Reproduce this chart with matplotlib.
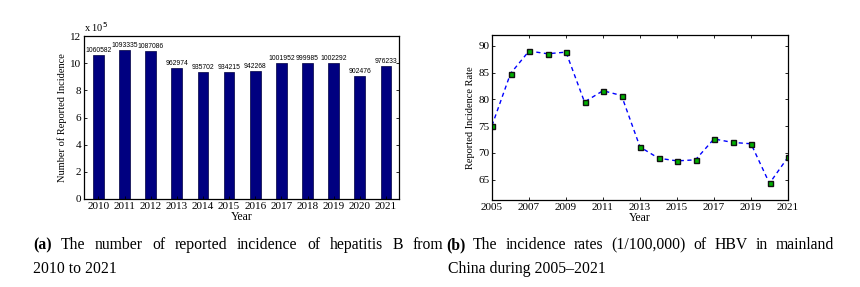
import numpy as np
import matplotlib
matplotlib.use('Agg')
import matplotlib.pyplot as plt

plt.rcParams['font.family'] = ['Liberation Serif', 'DejaVu Serif']

# data for panel (a)
bar_years = [2010, 2011, 2012, 2013, 2014, 2015, 2016, 2017, 2018, 2019, 2020, 2021]
bar_counts = [1060582, 1093335, 1087086, 962974, 935702, 934215, 942268, 1001952, 999985, 1002292, 902476, 976233]

# data for panel (b)
rate_years = [2005, 2006, 2007, 2008, 2009, 2010, 2011, 2012, 2013, 2014, 2015, 2016, 2017, 2018, 2019, 2020, 2021]
rate_values = [75.1, 84.8, 89.0, 88.5, 88.8, 79.5, 81.6, 80.7, 71.1, 69.0, 68.5, 68.7, 72.6, 71.95, 71.7, 64.3, 69.2]

W, H = 860, 287
fig = plt.figure(figsize=(W / 100, H / 100), dpi=100)


def ax_rect(x0, y0, x1, y1):
    return [x0 / W, 1 - y1 / H, (x1 - x0) / W, (y1 - y0) / H]


def matlab_box(ax):
    ax.tick_params(direction='in', top=True, right=True, labelsize=8, length=2.5, width=0.6, pad=2)
    for s in ax.spines.values():
        s.set_linewidth(0.9)


# ---- panel (a)
ax1 = fig.add_axes(ax_rect(84, 36, 399, 199))
scaled = np.array(bar_counts) / 1e5
ax1.bar(bar_years, scaled, width=0.41, color='#000080', edgecolor='#000040', linewidth=0.5)
for yr, c, v in zip(bar_years, bar_counts, scaled):
    ax1.text(yr, v + 0.08, str(c), ha='center', va='bottom', fontsize=4.9, family='Liberation Sans')
ax1.set_xlim(2009.45, 2021.5)
ax1.set_ylim(0, 12)
ax1.set_xticks(bar_years)
ax1.set_yticks(range(0, 13, 2))
matlab_box(ax1)
ax1.tick_params(axis='x', top=False)
ax1.set_xlabel('Year', fontsize=8.5, labelpad=0.5)
ax1.set_ylabel('Number of Reported Incidence', fontsize=7.5, labelpad=2)
ax1.text(0.0, 1.01, r'x 10$^5$', transform=ax1.transAxes, fontsize=7.5, ha='left', va='bottom')

# ---- panel (b)
ax2 = fig.add_axes(ax_rect(492, 35, 788, 200))
ax2.plot(rate_years, rate_values, '--', color='#0000ff', linewidth=1.0, dashes=(3, 2.5),
         marker='s', markersize=3.6, markerfacecolor='#00b000', markeredgecolor='#101010', markeredgewidth=1.0)
ax2.set_xlim(2005, 2021)
ax2.set_ylim(61.2, 92)
ax2.set_xticks(range(2005, 2022, 2))
ax2.set_yticks(range(65, 91, 5))
matlab_box(ax2)
ax2.set_xlabel('Year', fontsize=8.5, labelpad=0.5)
ax2.set_ylabel('Reported Incidence Rate', fontsize=7.5, labelpad=2)

# ---- captions (justified first lines)
fig.canvas.draw()
renderer = fig.canvas.get_renderer()
cap_size = 11.3


def justified(words, x0, x1, y):
    items = []
    for i, w in enumerate(words):
        t = fig.text(0, y / H, w, fontsize=cap_size, va='baseline', ha='left',
                     weight='bold' if i == 0 else 'normal')
        items.append(t)
    widths = [t.get_window_extent(renderer).width for t in items]
    gap = (x1 - x0 - sum(widths)) / (len(words) - 1)
    x = x0
    for t, wd in zip(items, widths):
        t.set_x(x / W)
        x += wd + gap


cap_a = ['(a)', 'The', 'number', 'of', 'reported', 'incidence', 'of', 'hepatitis', 'B', 'from']
cap_b = ['(b)', 'The', 'incidence', 'rates', '(1/100,000)', 'of', 'HBV', 'in', 'mainland']
justified(cap_a, 33, 443, H - 249)
justified(cap_b, 446, 834, H - 249)
fig.text(33 / W, (H - 273) / H, '2010 to 2021', fontsize=cap_size, va='baseline', ha='left')
fig.text(448 / W, (H - 273) / H, 'China during 2005\u20132021', fontsize=cap_size, va='baseline', ha='left')

fig.savefig('out.png', dpi=100)
